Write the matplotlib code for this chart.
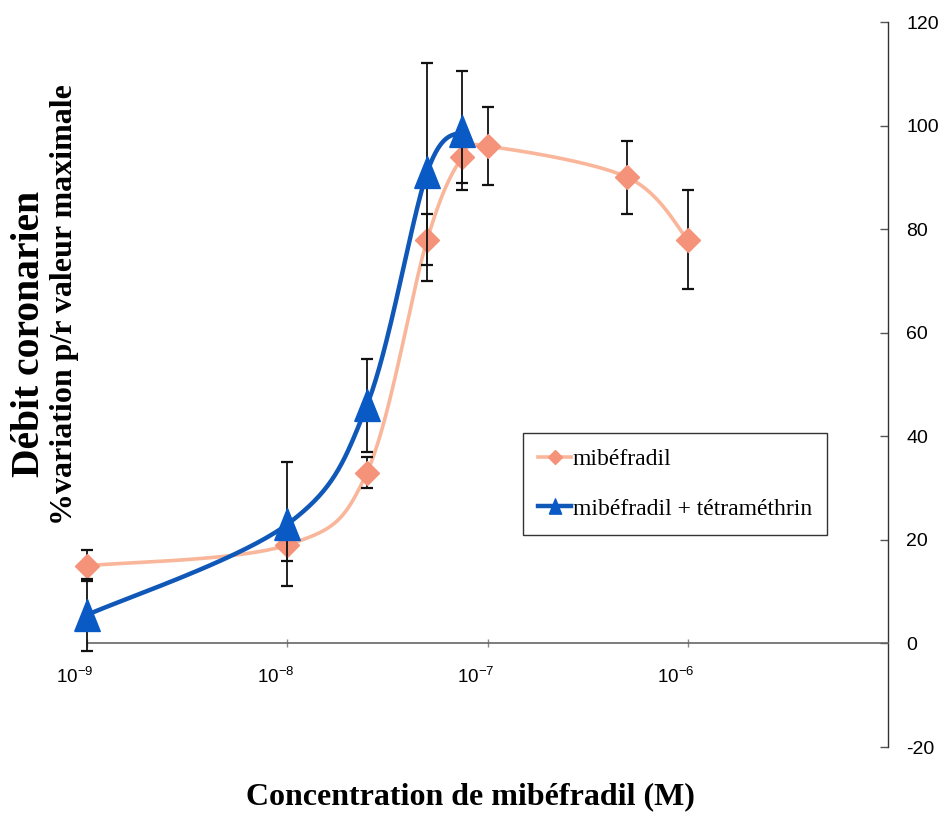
import numpy as np
import matplotlib
matplotlib.use("Agg")
import matplotlib.pyplot as plt
from matplotlib.lines import Line2D
import matplotlib.transforms as mtransforms

# ---------------- data ----------------
conc_mib = [1e-9, 1e-8, 2.5e-8, 5e-8, 7.5e-8, 1e-7, 5e-7, 1e-6]
val_mib = [15, 19, 33, 78, 94, 96, 90, 78]
err_mib = [3, 3, 3, 5, 5, 7.5, 7, 9.5]

conc_tet = [1e-9, 1e-8, 2.5e-8, 5e-8, 7.5e-8]
val_tet = [5.5, 23, 46, 91, 99]
err_tet = [7, 12, 9, 21, 11.5]

xticks = [1e-9, 1e-8, 1e-7, 1e-6]
xtick_labels = [r'$\mathregular{10^{-9}}$', r'$\mathregular{10^{-8}}$',
                r'$\mathregular{10^{-7}}$', r'$\mathregular{10^{-6}}$']
yticks = [-20, 0, 20, 40, 60, 80, 100, 120]

label_mib = 'mibéfradil'
label_tet = 'mibéfradil + tétraméthrin'
xlabel = 'Concentration de mibéfradil (M)'
ylabel1 = 'Débit coronarien'
ylabel2 = '%variation p/r valeur maximale'

# ---------------- style ----------------
plt.rcParams['mathtext.fontset'] = 'custom'
plt.rcParams['mathtext.rm'] = 'Liberation Sans'
plt.rcParams['font.family'] = ['Liberation Sans', 'DejaVu Sans']

c_mib_line = '#F9B69A'
c_mib_mark = '#F5937A'
c_tet_line = '#1058B8'
c_tet_mark = '#0A5AC6'

W, H = 944, 813
fig = plt.figure(figsize=(W / 100, H / 100), dpi=100)
ax = fig.add_axes([87 / W, (H - 747) / H, 801 / W, 725 / H])
ax.set_xscale('log')
ax.set_xlim(1e-9, 1e-5)
ax.set_ylim(-20, 120)


def excel_smooth(ax, x, y, n=40):
    pts = ax.transData.transform(np.column_stack([x, y]))
    P = np.vstack([pts[0], pts, pts[-1]])
    segs = []
    t = np.linspace(0, 1, n)[:, None]
    for i in range(1, len(P) - 2):
        p0, p1, p2, p3 = P[i - 1], P[i], P[i + 1], P[i + 2]
        c1 = p1 + (p2 - p0) / 6.0
        c2 = p2 - (p3 - p1) / 6.0
        seg = ((1 - t) ** 3) * p1 + 3 * ((1 - t) ** 2) * t * c1 + 3 * (1 - t) * (t ** 2) * c2 + (t ** 3) * p2
        segs.append(seg)
    curve = np.vstack(segs)
    d = ax.transData.inverted().transform(curve)
    return d[:, 0], d[:, 1]


tri = [(-0.8, -1.0), (0.8, -1.0), (0.0, 1.0), (-0.8, -1.0)]

# orange series
sx, sy = excel_smooth(ax, conc_mib, val_mib)
ax.plot(sx, sy, color=c_mib_line, lw=2.6, zorder=2, solid_capstyle='round', clip_on=False)
eb1 = ax.errorbar(conc_mib, val_mib, yerr=err_mib, fmt='none', ecolor='#111111',
                  elinewidth=1.3, capsize=4.5, capthick=1.6, zorder=2.5)
ax.plot(conc_mib, val_mib, linestyle='none', marker='D', markersize=12,
        markerfacecolor=c_mib_mark, markeredgecolor=c_mib_mark, zorder=3, clip_on=False)

# blue series
bx, by = excel_smooth(ax, conc_tet, val_tet)
ax.plot(bx, by, color=c_tet_line, lw=3.2, zorder=4, solid_capstyle='round', clip_on=False)
eb2 = ax.errorbar(conc_tet, val_tet, yerr=err_tet, fmt='none', ecolor='#111111',
                  elinewidth=1.3, capsize=4.5, capthick=1.6, zorder=4.5)
ax.plot(conc_tet, val_tet, linestyle='none', marker=tri, markersize=23,
        markerfacecolor=c_tet_mark, markeredgecolor=c_tet_mark, zorder=5, clip_on=False)

for eb in (eb1, eb2):
    for art in eb.lines[1]:
        art.set_clip_on(False)
    for art in eb.lines[2]:
        art.set_clip_on(False)

# axes styling
for s in ['left', 'top']:
    ax.spines[s].set_visible(False)
ax.spines['bottom'].set_position(('data', 0))
ax.spines['bottom'].set_color('#666666')
ax.spines['bottom'].set_linewidth(1.2)
ax.spines['right'].set_color('#333333')
ax.spines['right'].set_linewidth(1.0)

ax.yaxis.tick_right()
ax.set_yticks(yticks)
ax.set_yticklabels([str(v) for v in yticks])
ax.tick_params(axis='y', direction='in', length=6, width=1, color='#555555',
               pad=13, labelsize=14)
ax.set_xticks(xticks)
ax.set_xticklabels(xtick_labels)
ax.xaxis.set_minor_locator(matplotlib.ticker.NullLocator())
ax.tick_params(axis='x', direction='inout', length=6, width=1, color='#888888',
               pad=14, labelsize=13.5)
offset = mtransforms.ScaledTranslation(-12 / 100, 0, fig.dpi_scale_trans)
for lab in ax.get_xticklabels():
    lab.set_transform(lab.get_transform() + offset)

# labels
serif = ['Liberation Serif', 'DejaVu Serif']
fig.text(30 / W, 1 - 334 / H, ylabel1, rotation=90, ha='center', va='center',
         fontsize=28.5, fontweight='bold', family=serif)
fig.text(65 / W, 1 - 305 / H, ylabel2, rotation=90, ha='center', va='center',
         fontsize=23, fontweight='bold', family=serif)
fig.text(470 / W, 1 - 797 / H, xlabel, ha='center', va='center',
         fontsize=23, fontweight='bold', family=serif)

# legend
h1 = Line2D([], [], color=c_mib_line, lw=2.6, marker='D', markersize=7,
            markerfacecolor=c_mib_mark, markeredgecolor=c_mib_mark)
h2 = Line2D([], [], color=c_tet_line, lw=3.2, marker=tri, markersize=11,
            markerfacecolor=c_tet_mark, markeredgecolor=c_tet_mark)
leg = ax.legend([h1, h2], [label_mib, label_tet], loc='upper left',
                bbox_to_anchor=((523 - 87) / 801, (747 - 433) / 725),
                prop={'family': serif, 'size': 17}, frameon=True,
                fancybox=False, edgecolor='#333333', framealpha=1,
                handlelength=1.4, handletextpad=0.05, labelspacing=1.2,
                borderpad=0.65, borderaxespad=0)
leg.get_frame().set_linewidth(1.0)

fig.savefig('out.png', dpi=100)
